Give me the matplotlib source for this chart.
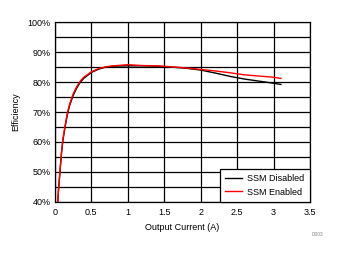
import matplotlib
matplotlib.use('Agg')
import matplotlib.pyplot as plt
import numpy as np
from matplotlib.ticker import MultipleLocator, FuncFormatter

plt.rcParams['font.family'] = ['Liberation Sans', 'DejaVu Sans']
plt.rcParams['font.size'] = 6.5

# data
current = [0.04, 0.05, 0.07, 0.09, 0.11, 0.14, 0.17, 0.2, 0.25, 0.3, 0.35, 0.4,
           0.5, 0.6, 0.7, 0.8, 1.0, 1.2, 1.4, 1.6, 1.8, 2.0, 2.2, 2.4, 2.6, 2.8,
           3.0, 3.1]
eff_disabled = [40, 44, 50, 56, 60.5, 65, 69, 72, 75.5, 78, 80, 81.3,
                83.2, 84.3, 85.0, 85.3, 85.4, 85.4, 85.3, 85.0, 84.6, 84.0, 83.0, 81.9, 81.0, 80.3,
                79.6, 79.2]
eff_enabled = [40, 44.5, 50.5, 56.5, 61, 65.5, 69.5, 72.5, 76, 78.5, 80.4, 81.7,
               83.4, 84.5, 85.1, 85.4, 85.8, 85.5, 85.4, 85.1, 84.7, 84.2, 83.7, 83.1, 82.4, 82.0,
               81.6, 81.2]

fig = plt.figure(figsize=(3.43, 2.54), dpi=100)
ax = fig.add_axes([0.160, 0.205, 0.744, 0.708])

ax.plot(current, eff_disabled, color='black', lw=1.0, label='SSM Disabled')
ax.plot(current, eff_enabled, color='red', lw=1.0, label='SSM Enabled')

ax.set_xlim(0, 3.5)
ax.set_ylim(40, 100)
ax.xaxis.set_major_locator(MultipleLocator(0.5))
ax.yaxis.set_major_locator(MultipleLocator(10))
ax.yaxis.set_minor_locator(MultipleLocator(5))
ax.xaxis.set_major_formatter(FuncFormatter(lambda v, p: f'{v:g}'))
ax.yaxis.set_major_formatter(FuncFormatter(lambda v, p: f'{v:.0f}%'))
ax.grid(which='both', color='black', lw=0.9)
ax.tick_params(which='both', length=0, labelsize=6.5)
ax.tick_params(axis='x', pad=4.5)
ax.tick_params(axis='y', pad=3)
for s in ax.spines.values():
    s.set_linewidth(0.9)

ax.set_xlabel('Output Current (A)', fontsize=6.5, labelpad=4)
ax.set_ylabel('Efficiency', fontsize=6.5, labelpad=5)

leg = ax.legend(loc='lower right', fontsize=6.5, frameon=True, fancybox=False,
                edgecolor='black', framealpha=1, borderaxespad=0,
                handlelength=1.9, handletextpad=0.55, borderpad=0.6,
                labelspacing=0.5)
leg.get_frame().set_linewidth(0.9)

fig.text(0.925, 0.072, 'D003', fontsize=3.5, color='#888888', ha='center')

fig.savefig('out.png', dpi=100)
